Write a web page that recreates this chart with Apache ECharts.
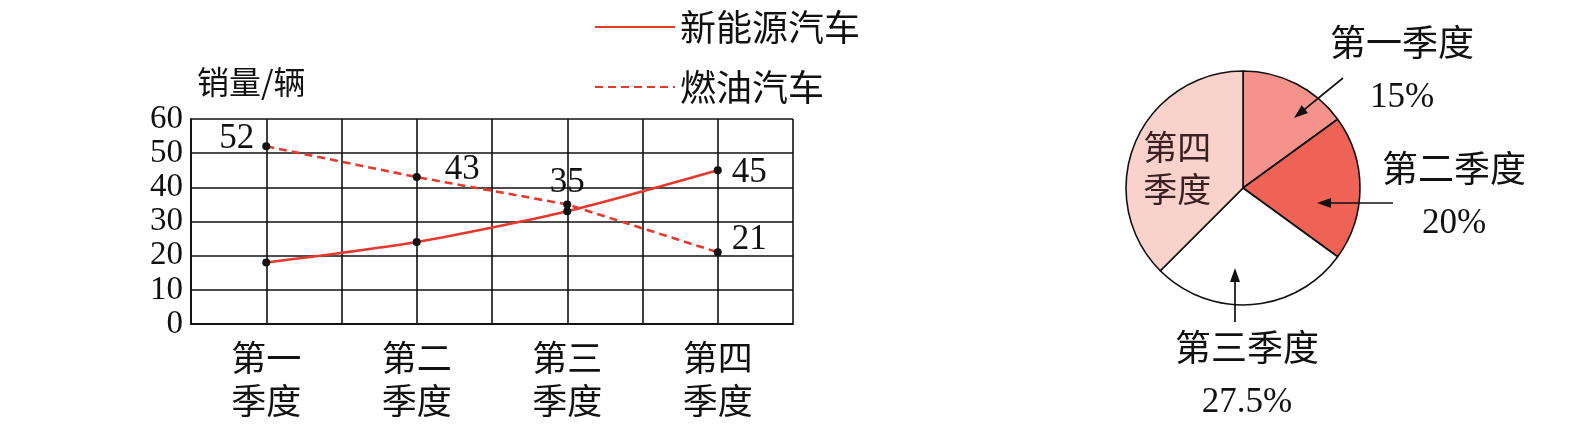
<!DOCTYPE html>
<html><head><meta charset="utf-8">
<script src="https://cdn.jsdelivr.net/npm/echarts@6/dist/echarts.min.js"></script>
<style>html,body{margin:0;padding:0;background:#fff}#c{width:1580px;height:438px}</style>
</head><body><div id="c"></div>
<script>
// ---- data ----
const categories = ['第一季度', '第二季度', '第三季度', '第四季度'];
const newEnergySales = [18, 24, 33, 45];
const fuelSales = [52, 43, 35, 21];
const yMin = 0, yMax = 60, yStep = 10;
const pieNames = ['第一季度', '第二季度', '第三季度', '第四季度'];
const pieShares = [15, 20, 27.5, 37.5];

// ---- styles / layout ----
const CJK = 'Noto Sans CJK SC';
const SERIF = 'Liberation Serif';
const RED = '#e5392d';
const pieColors = ['#f4938b', '#ef6256', '#ffffff', '#fad2cc'];
const fuelLabelStyle = [
  {show: true, position: 'left', distance: 8, offset: [0, -8]},
  {show: true, position: 'right', distance: 24, offset: [0, -7]},
  {show: true, position: 'top', distance: 0},
  {show: true, position: 'right', distance: 10, offset: [0, -12]}
];
const newLabelStyle = [
  {show: false}, {show: false}, {show: false},
  {show: true, position: 'right', distance: 10, offset: [0, 3]}
];
const pieCenter = [1243, 188];
const pieRadius = 117;
const pieLabelPos = [[1402, 70], [1454, 196], [1247, 375], null];
const arrows = [ // [tailDx, tailDy, tipDx, tipDy] relative to pie centre
  [100, -110, 51, -70],
  [150, 15, 74, 15],
  [-8, 134, -8, 80]
];

const numLabel = {fontFamily: SERIF, fontSize: 35, color: '#111'};

function arrowGraphics() {
  const out = [];
  arrows.forEach(a => {
    const x1 = pieCenter[0] + a[0], y1 = pieCenter[1] + a[1];
    const x2 = pieCenter[0] + a[2], y2 = pieCenter[1] + a[3];
    const dx = x2 - x1, dy = y2 - y1, L = Math.hypot(dx, dy);
    const ux = dx / L, uy = dy / L, hl = 14, hw = 5;
    const bx = x2 - ux * hl, by = y2 - uy * hl;
    out.push({type: 'line', silent: true, z: 100,
      shape: {x1: x1, y1: y1, x2: bx + ux * 2, y2: by + uy * 2},
      style: {stroke: '#111', lineWidth: 1.7}});
    out.push({type: 'polygon', silent: true, z: 100,
      shape: {points: [[x2, y2], [bx - uy * hw, by + ux * hw], [bx + uy * hw, by - ux * hw]]},
      style: {fill: '#111'}});
  });
  return out;
}

const chart = echarts.init(document.getElementById('c'), null, {renderer: 'canvas'});
chart.setOption({
  animation: false,
  backgroundColor: '#fff',
  legend: {
    orient: 'vertical', left: 589, top: 4,
    itemWidth: 80, itemHeight: 14, itemGap: 24,
    data: ['新能源汽车', '燃油汽车'],
    itemStyle: {opacity: 0},
    textStyle: {fontFamily: CJK, fontSize: 36, color: '#111', lineHeight: 36},
    selectedMode: false
  },
  grid: {left: 191, right: 787, top: 119, bottom: 114, containLabel: false},
  xAxis: [
    {
      type: 'category', data: categories, boundaryGap: true,
      axisLine: {show: true, lineStyle: {color: '#111', width: 1.8}},
      axisTick: {show: false},
      splitLine: {show: false},
      axisLabel: {
        margin: 12, fontFamily: CJK, fontSize: 35, lineHeight: 43, color: '#111',
        formatter: v => v.slice(0, 2) + '\n' + v.slice(2)
      }
    },
    {
      type: 'value', min: 0, max: 8, interval: 1, position: 'top',
      axisLine: {show: false}, axisTick: {show: false}, axisLabel: {show: false},
      splitLine: {show: true, lineStyle: {color: '#111', width: 1.6}}
    }
  ],
  yAxis: {
    type: 'value', min: yMin, max: yMax, interval: yStep,
    name: '销量/辆', nameLocation: 'end', nameGap: 21,
    nameTextStyle: {fontFamily: CJK, fontSize: 32, color: '#111', align: 'left', padding: [0, 0, 0, 6]},
    axisLine: {show: true, lineStyle: {color: '#111', width: 1.8}},
    axisTick: {show: false},
    axisLabel: {margin: 8, fontFamily: SERIF, fontSize: 33, color: '#111'},
    splitLine: {show: true, lineStyle: {color: '#111', width: 1.6}}
  },
  series: [
    {
      name: '新能源汽车', type: 'line', xAxisIndex: 0, yAxisIndex: 0,
      data: newEnergySales.map((v, i) => ({value: v, label: newLabelStyle[i]})),
      smooth: 0.25,
      symbol: 'circle', symbolSize: 8,
      itemStyle: {color: '#111'},
      lineStyle: {color: RED, width: 2.6, type: 'solid'},
      label: numLabel,
      emphasis: {disabled: true}, z: 3
    },
    {
      name: '燃油汽车', type: 'line', xAxisIndex: 0, yAxisIndex: 0,
      data: fuelSales.map((v, i) => ({value: v, label: fuelLabelStyle[i]})),
      symbol: 'circle', symbolSize: 8,
      itemStyle: {color: '#111'},
      lineStyle: {color: RED, width: 2.6, type: [8, 5]},
      label: numLabel,
      emphasis: {disabled: true}, z: 3
    },
    {
      name: '季度占比', type: 'pie', center: pieCenter, radius: pieRadius,
      startAngle: 90, clockwise: true, avoidLabelOverlap: false,
      itemStyle: {borderColor: '#111', borderWidth: 1.6},
      emphasis: {disabled: true},
      labelLine: {show: false},
      label: {
        show: true, position: 'outside', color: '#111',
        formatter: p => '{n|' + p.name + '}\n{p|' + p.value + '%}',
        rich: {
          n: {fontFamily: CJK, fontSize: 36, lineHeight: 55, color: '#111'},
          p: {fontFamily: SERIF, fontSize: 35, lineHeight: 55, color: '#111'}
        }
      },
      labelLayout: function (params) {
        const p = pieLabelPos[params.dataIndex];
        if (!p) return {};
        return {x: p[0], y: p[1], align: 'center', verticalAlign: 'middle'};
      },
      data: pieNames.map((n, i) => {
        const d = {name: n, value: pieShares[i], itemStyle: {color: pieColors[i]}};
        if (i === 3) {
          d.label = {
            position: 'inside', offset: [-9, 4],
            formatter: p => p.name.slice(0, 2) + '\n' + p.name.slice(2),
            fontFamily: CJK, fontSize: 34, lineHeight: 42, color: '#3a2020'
          };
        }
        return d;
      })
    }
  ],
  graphic: arrowGraphics()
});
</script>
</body></html>
